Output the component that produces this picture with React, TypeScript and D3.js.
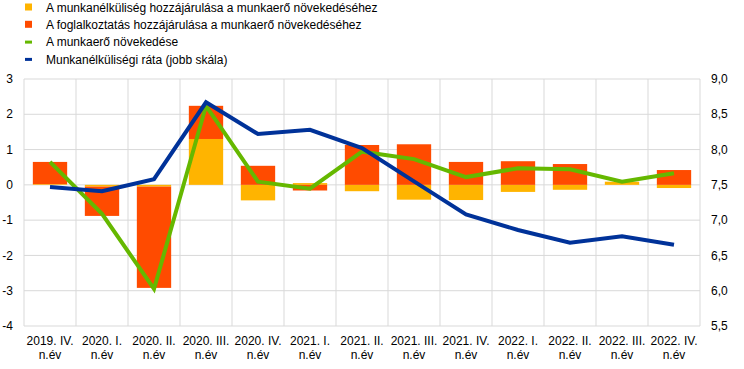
import { useRef, useEffect } from "react";
import * as d3 from "d3";

const categories = [
    "2019. IV.", "2020. I.", "2020. II.", "2020. III.", "2020. IV.",
    "2021. I.", "2021. II.", "2021. III.", "2021. IV.",
    "2022. I.", "2022. II.", "2022. III.", "2022. IV.",
];
// contribution of unemployment (yellow)
const unemploymentContrib = [0.02, -0.05, -0.05, 1.3, -0.44, 0.05, -0.18, -0.42, -0.43, -0.2, -0.14, 0.09, -0.09];
// contribution of employment (orange)
const employmentContrib = [0.63, -0.83, -2.87, 0.94, 0.54, -0.16, 1.13, 1.15, 0.65, 0.67, 0.59, 0.0, 0.42];
// labour force growth (green)
const laborForceGrowth = [0.65, -0.82, -2.95, 2.24, 0.09, -0.11, 0.94, 0.73, 0.22, 0.47, 0.44, 0.09, 0.33];
// unemployment rate, right scale (blue)
const unemploymentRate = [7.47, 7.41, 7.58, 8.67, 8.22, 8.28, 8.02, 7.55, 7.08, 6.86, 6.68, 6.77, 6.65];

const leftTicks = [-4, -3, -2, -1, 0, 1, 2, 3];
const rightTicks = [5.5, 6, 6.5, 7, 7.5, 8, 8.5, 9];

const legendItems = [
    { label: "A munkanélküliség hozzájárulása a munkaerő növekedéséhez", color: "#FFB400", type: "rect" },
    { label: "A foglalkoztatás hozzájárulása a munkaerő növekedéséhez", color: "#FF4B00", type: "rect" },
    { label: "A munkaerő növekedése", color: "#65B800", type: "line" },
    { label: "Munkanélküliségi ráta (jobb skála)", color: "#003299", type: "line" },
];

export default function App() {
    const svgRef = useRef<SVGSVGElement | null>(null);
    const width = 744;
    const height = 369;

    useEffect(() => {
        if (!svgRef.current) return;
        const svg = d3.select(svgRef.current);
        svg.selectAll("*").remove();

        const margin = { top: 79, right: 44, bottom: 43, left: 24 };
        const font = "Arial, 'Liberation Sans', sans-serif";

        const x = d3
            .scaleBand()
            .domain(categories)
            .range([margin.left, width - margin.right])
            .paddingInner(0.34)
            .paddingOuter(0.17);

        const y = d3.scaleLinear().domain([-4, 3]).range([height - margin.bottom, margin.top]);
        const y2 = d3.scaleLinear().domain([5.5, 9]).range([height - margin.bottom, margin.top]);

        const grid = "#d9d9d9";

        // horizontal gridlines
        svg.append("g")
            .selectAll("line")
            .data(leftTicks)
            .enter()
            .append("line")
            .attr("x1", margin.left)
            .attr("x2", width - margin.right)
            .attr("y1", d => y(d))
            .attr("y2", d => y(d))
            .attr("stroke", grid)
            .attr("stroke-width", 1);

        // vertical gridlines at category boundaries
        const step = x.step();
        svg.append("g")
            .selectAll("line")
            .data(d3.range(categories.length + 1))
            .enter()
            .append("line")
            .attr("x1", i => margin.left + i * step)
            .attr("x2", i => margin.left + i * step)
            .attr("y1", margin.top)
            .attr("y2", height - margin.bottom)
            .attr("stroke", grid)
            .attr("stroke-width", 1);

        // stacked bars
        const rows = categories.map((c, i) => ({
            cat: c,
            unemp: unemploymentContrib[i],
            emp: employmentContrib[i],
        }));
        const stack = d3
            .stack<{ cat: string; unemp: number; emp: number }>()
            .keys(["unemp", "emp"])
            .offset(d3.stackOffsetDiverging);
        const series = stack(rows);
        const colors = ["#FFB400", "#FF4B00"];

        svg.append("g")
            .selectAll("g")
            .data(series)
            .enter()
            .append("g")
            .attr("fill", (_d, i) => colors[i])
            .selectAll("rect")
            .data(d => d)
            .enter()
            .append("rect")
            .attr("x", d => x(d.data.cat)!)
            .attr("width", x.bandwidth())
            .attr("y", d => y(Math.max(d[0], d[1])))
            .attr("height", d => Math.abs(y(d[0]) - y(d[1])));

        const cx = (c: string) => x(c)! + x.bandwidth() / 2;

        // labour force growth
        const green = d3
            .line<number>()
            .x((_d, i) => cx(categories[i]))
            .y(d => y(d));
        svg.append("path")
            .attr("d", green(laborForceGrowth)!)
            .attr("fill", "none")
            .attr("stroke", "#65B800")
            .attr("stroke-width", 4);

        // unemployment rate (right axis)
        const blue = d3
            .line<number>()
            .x((_d, i) => cx(categories[i]))
            .y(d => y2(d));
        svg.append("path")
            .attr("d", blue(unemploymentRate)!)
            .attr("fill", "none")
            .attr("stroke", "#003299")
            .attr("stroke-width", 4);

        // left axis labels
        svg.append("g")
            .selectAll("text")
            .data(leftTicks)
            .enter()
            .append("text")
            .attr("x", 13)
            .attr("y", d => y(d))
            .attr("dy", "0.35em")
            .attr("text-anchor", "end")
            .attr("font-family", font)
            .attr("font-size", 12)
            .attr("fill", "#000")
            .text(d => String(d).replace("-", "-"));

        // right axis labels
        svg.append("g")
            .selectAll("text")
            .data(rightTicks)
            .enter()
            .append("text")
            .attr("x", 711)
            .attr("y", d => y2(d))
            .attr("dy", "0.35em")
            .attr("text-anchor", "start")
            .attr("font-family", font)
            .attr("font-size", 12)
            .attr("fill", "#000")
            .text(d => d.toFixed(1).replace(".", ","));

        // x labels, two lines
        const xl = svg.append("g")
            .selectAll("text")
            .data(categories)
            .enter()
            .append("text")
            .attr("text-anchor", "middle")
            .attr("font-family", font)
            .attr("font-size", 12)
            .attr("fill", "#000");
        xl.append("tspan").attr("x", d => cx(d)).attr("y", 345).text(d => d);
        xl.append("tspan").attr("x", d => cx(d)).attr("y", 359).text("n.év");

        // legend
        const lg = svg.append("g")
            .selectAll("g")
            .data(legendItems)
            .enter()
            .append("g")
            .attr("transform", (_d, i) => `translate(0,${7.5 + i * 17.3})`);
        lg.filter(d => d.type === "rect")
            .append("rect")
            .attr("x", 25)
            .attr("y", -4)
            .attr("width", 7)
            .attr("height", 7)
            .attr("fill", d => d.color);
        lg.filter(d => d.type === "line")
            .append("rect")
            .attr("x", 25)
            .attr("y", -1.5)
            .attr("width", 7)
            .attr("height", 3)
            .attr("fill", d => d.color);
        lg.append("text")
            .attr("x", 46)
            .attr("y", 0)
            .attr("dy", "0.35em")
            .attr("font-family", font)
            .attr("font-size", 12)
            .attr("fill", "#000")
            .text(d => d.label);
    }, []);

    return (
        <svg
            ref={svgRef}
            width={width}
            height={height}
            style={{ position: "absolute", left: 0, top: 0, background: "#fff" }}
        />
    );
}
